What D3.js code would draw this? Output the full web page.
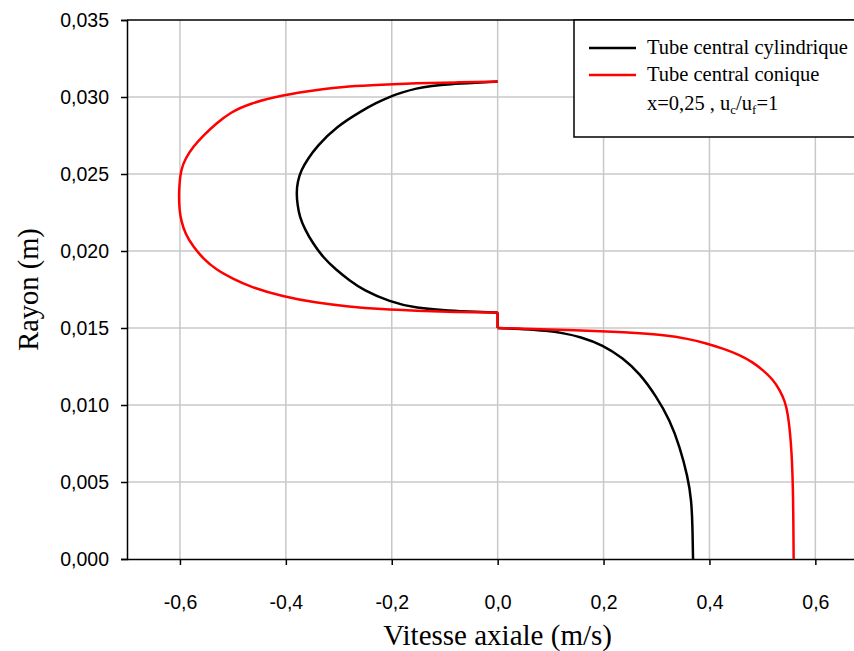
<!DOCTYPE html>
<html>
<head>
<meta charset="utf-8">
<script src="https://cdn.jsdelivr.net/npm/d3@7"></script>
<style>
  html, body { margin: 0; padding: 0; background: #fff; }
  svg { display: block; }
</style>
</head>
<body>
<svg id="chart" width="854" height="651"></svg>
<script>
// ---- Data (velocity in m/s, radius in m) ----
// Each series: upper lobe (r 0.031 -> 0.016), then lower profile (r 0.015 -> 0)
const cylV = [0, -0.04, -0.091, -0.125, -0.154, -0.18, -0.204, -0.23, -0.254, -0.305, -0.342, -0.358, -0.371, -0.378, -0.380,
              -0.378, -0.374, -0.364, -0.349, -0.330, -0.305, -0.280, -0.254, -0.204, -0.154, -0.091, -0.04, 0,
              0, 0.05, 0.092, 0.125, 0.155, 0.199, 0.237, 0.268, 0.300, 0.325, 0.344, 0.359, 0.366, 0.368, 0.369];
const cylR = [0.0310, 0.03093, 0.03084, 0.03072, 0.03056, 0.03030, 0.03002, 0.02960, 0.02916, 0.02807, 0.02677, 0.02600, 0.02526, 0.02450, 0.02375,
              0.02300, 0.02223, 0.02140, 0.0205, 0.01960, 0.01877, 0.01810, 0.01747, 0.01671, 0.01628, 0.01612, 0.01605, 0.0160,
              0.0150, 0.01493, 0.01483, 0.01466, 0.01444, 0.0139, 0.01303, 0.01206, 0.01054, 0.00903, 0.00729, 0.00534, 0.00383, 0.0021, 0.0];

const conV = [0, -0.08, -0.154, -0.22, -0.280, -0.345, -0.405, -0.468, -0.505, -0.531, -0.556, -0.575, -0.590, -0.598, -0.601, -0.602,
              -0.601, -0.598, -0.590, -0.575, -0.556, -0.531, -0.500, -0.468, -0.405, -0.345, -0.280, -0.22, -0.154, -0.08, 0,
              0, 0.092, 0.218, 0.27, 0.312, 0.36, 0.394, 0.427, 0.457, 0.482, 0.501, 0.520, 0.533, 0.543, 0.548, 0.554, 0.558, 0.559];
const conR = [0.0310, 0.03095, 0.03089, 0.03080, 0.03071, 0.03045, 0.03013, 0.02959, 0.02900, 0.02829, 0.02750, 0.02677, 0.02600, 0.02526, 0.02440, 0.02353,
              0.02270, 0.02201, 0.02110, 0.02028, 0.01950, 0.01877, 0.01820, 0.01768, 0.01703, 0.01665, 0.01638, 0.01622, 0.01612, 0.01604, 0.0160,
              0.0150, 0.01492, 0.01476, 0.01465, 0.01455, 0.01430, 0.01401, 0.01365, 0.01325, 0.01277, 0.01227, 0.01165, 0.01097, 0.01020, 0.00946, 0.00773, 0.00492, 0.0];

const xTicks = [-0.6, -0.4, -0.2, 0.0, 0.2, 0.4, 0.6];
const yTicks = [0, 0.005, 0.010, 0.015, 0.020, 0.025, 0.030, 0.035];
const seriesNames = ["Tube central cylindrique", "Tube central conique"];
const seriesColors = ["#000000", "#ff0000"];

// ---- Layout ----
const svg = d3.select("#chart");
const mLeft = 127, mTop = 20, mBottom = 559;
const x = d3.scaleLinear().domain([-0.7, 0.7]).range([mLeft, mLeft + 1.4 * 529.5]);
const y = d3.scaleLinear().domain([0, 0.035]).range([mBottom, mTop]);
const mRight = x(0.7);

const fmt = (v, d) => v.toFixed(d).replace(".", ",").replace("\u2212", "-");

// grid
svg.append("g").selectAll("line").data(xTicks).join("line")
  .attr("x1", d => x(d)).attr("x2", d => x(d))
  .attr("y1", mTop).attr("y2", mBottom)
  .attr("stroke", "#c8c8c8").attr("stroke-width", 1.5);
svg.append("g").selectAll("line").data(yTicks.filter(d => d > 0 && d < 0.035)).join("line")
  .attr("x1", mLeft).attr("x2", mRight)
  .attr("y1", d => y(d)).attr("y2", d => y(d))
  .attr("stroke", "#c8c8c8").attr("stroke-width", 1.5);

// top frame
svg.append("line").attr("x1", mLeft).attr("x2", mRight).attr("y1", mTop).attr("y2", mTop)
  .attr("stroke", "#000").attr("stroke-width", 1.5);

// axes
const xAxis = d3.axisBottom(x).tickValues(xTicks).tickSize(6).tickPadding(30)
  .tickFormat(d => fmt(d, 1));
const gx = svg.append("g").attr("transform", `translate(0,${mBottom})`).call(xAxis);
const yAxis = d3.axisLeft(y).tickValues(yTicks).tickSize(6).tickPadding(12)
  .tickFormat(d => fmt(d, 3));
const gy = svg.append("g").attr("transform", `translate(${mLeft},0)`).call(yAxis);
[gx, gy].forEach(g => {
  g.select(".domain").attr("stroke", "#000").attr("stroke-width", 1.5);
  g.selectAll(".tick line").attr("stroke", "#000").attr("stroke-width", 1.5);
  g.selectAll("text").attr("font-family", "Liberation Sans, Arial, sans-serif")
    .attr("font-size", 19.5).attr("fill", "#000");
});
gx.select(".domain").attr("d", `M${mLeft},0.5H${mRight}`);

// curves: upper lobe, step at v=0, lower profile
const smooth = d3.line().x(d => x(d[0])).y(d => y(d[1])).curve(d3.curveBasis);
const straight = d3.line().x(d => x(d[0])).y(d => y(d[1]));
function drawSeries(V, R, color) {
  const pts = V.map((v, i) => [v, R[i]]);
  const split = V.findIndex((v, i) => i > 0 && v === 0 && V[i - 1] === 0);
  const g = svg.append("g").attr("fill", "none").attr("stroke", color)
    .attr("stroke-width", 2.5).attr("stroke-linejoin", "round");
  g.append("path").attr("d", smooth(pts.slice(0, split)));
  g.append("path").attr("d", straight(pts.slice(split - 1, split + 1)));
  g.append("path").attr("d", smooth(pts.slice(split)));
}
drawSeries(cylV, cylR, seriesColors[0]);
drawSeries(conV, conR, seriesColors[1]);

// axis titles
svg.append("text").attr("x", x(0)).attr("y", 645).attr("text-anchor", "middle")
  .attr("font-family", "Liberation Serif, Times New Roman, serif").attr("font-size", 29)
  .text("Vitesse axiale (m/s)");
svg.append("text").attr("transform", `translate(38,${(mTop + mBottom) / 2}) rotate(-90)`)
  .attr("text-anchor", "middle")
  .attr("font-family", "Liberation Serif, Times New Roman, serif").attr("font-size", 28.5)
  .text("Rayon (m)");

// legend
const lg = svg.append("g");
lg.append("rect").attr("x", 574).attr("y", mTop).attr("width", 300).attr("height", 117)
  .attr("fill", "#fff").attr("stroke", "#000").attr("stroke-width", 1.5);
seriesNames.forEach((name, i) => {
  const yy = 48 + i * 27;
  lg.append("line").attr("x1", 589).attr("x2", 636).attr("y1", yy).attr("y2", yy)
    .attr("stroke", seriesColors[i]).attr("stroke-width", 2.5);
  lg.append("text").attr("x", 647).attr("y", yy + 6)
    .attr("font-family", "Liberation Serif, Times New Roman, serif").attr("font-size", 20.5)
    .text(name);
});
const t3 = lg.append("text").attr("x", 647).attr("y", 110)
  .attr("font-family", "Liberation Serif, Times New Roman, serif").attr("font-size", 20.5);
t3.append("tspan").text("x=0,25 , u");
t3.append("tspan").attr("font-size", 13).attr("dy", 4).text("c");
t3.append("tspan").attr("dy", -4).text("/u");
t3.append("tspan").attr("font-size", 13).attr("dy", 4).text("f");
t3.append("tspan").attr("dy", -4).text("=1");
</script>
</body>
</html>
